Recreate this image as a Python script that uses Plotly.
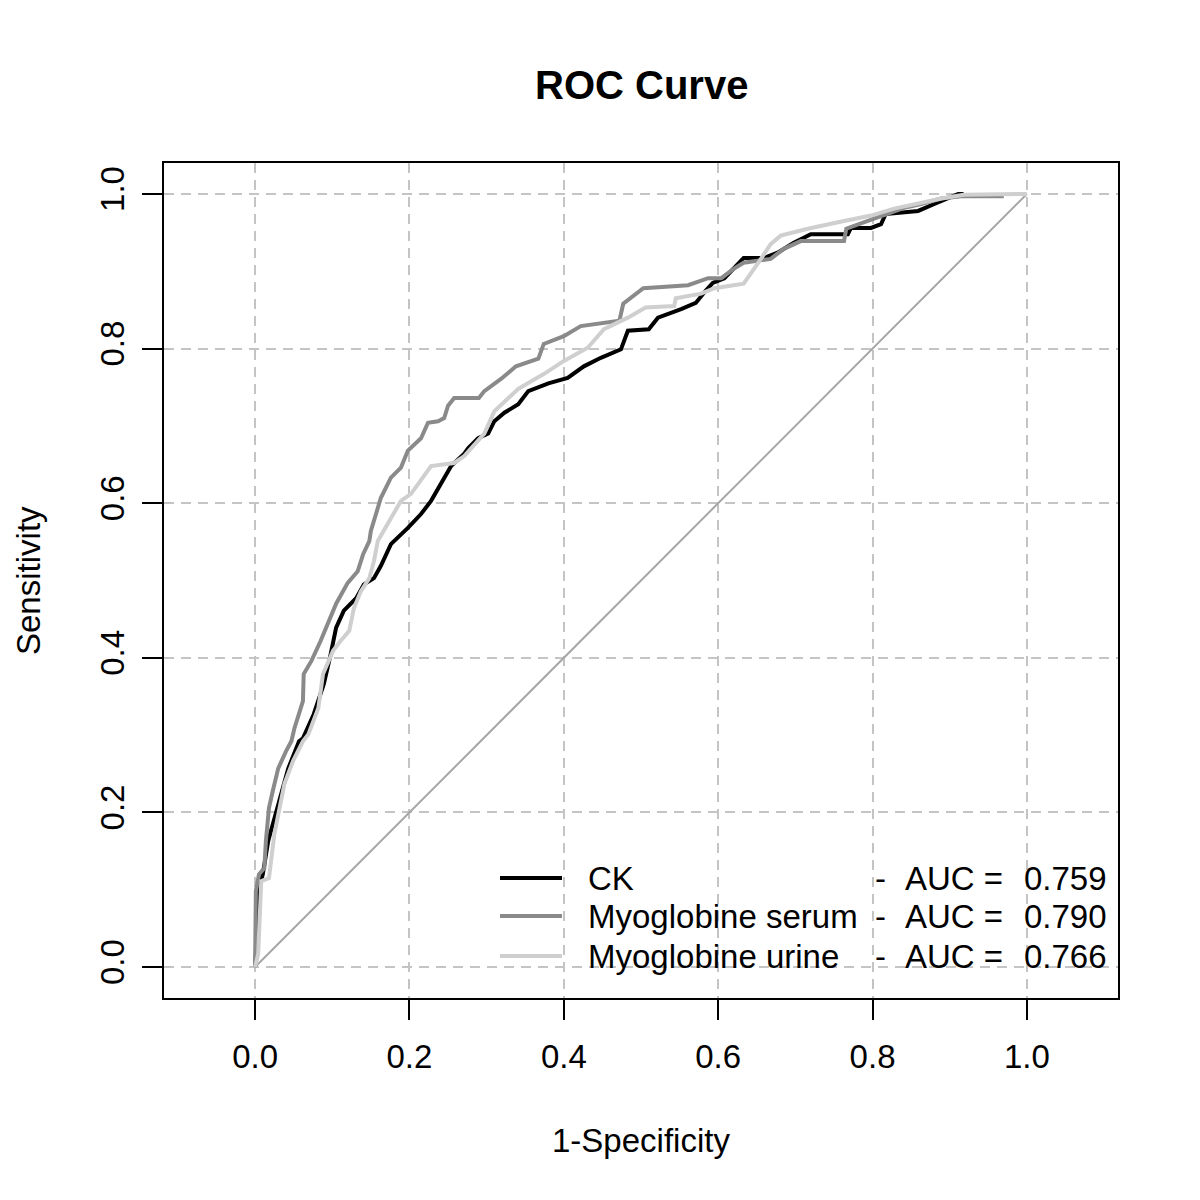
import plotly.graph_objects as go

# ---------------- data ----------------
ck_fpr = [0, 0.001, 0.004, 0.010, 0.017, 0.023, 0.030, 0.038, 0.043, 0.057,
          0.062, 0.076, 0.089, 0.098, 0.105, 0.115, 0.131, 0.141, 0.154, 0.163,
          0.176, 0.198, 0.215, 0.228, 0.245, 0.254, 0.271, 0.276, 0.289, 0.302,
          0.310, 0.323, 0.341, 0.354, 0.380, 0.405, 0.426, 0.448, 0.474, 0.483,
          0.510, 0.522, 0.552, 0.571, 0.584, 0.593, 0.608, 0.617, 0.633, 0.659,
          0.677, 0.698, 0.720, 0.768, 0.772, 0.798, 0.811, 0.817, 0.859, 0.880,
          0.898, 0.911, 0.918]
ck_tpr = [0, 0.017, 0.098, 0.120, 0.163, 0.185, 0.206, 0.237, 0.257, 0.292,
          0.296, 0.327, 0.366, 0.405, 0.439, 0.461, 0.477, 0.495, 0.503, 0.519,
          0.547, 0.568, 0.586, 0.603, 0.633, 0.648, 0.664, 0.671, 0.684, 0.690,
          0.706, 0.717, 0.728, 0.745, 0.755, 0.762, 0.777, 0.788, 0.799, 0.823,
          0.825, 0.840, 0.851, 0.859, 0.875, 0.885, 0.891, 0.900, 0.917, 0.917,
          0.924, 0.937, 0.948, 0.948, 0.956, 0.956, 0.961, 0.974, 0.978, 0.987,
          0.995, 1.000, 1.000]

serum_fpr = [0, 0, 0.001, 0.005, 0.012, 0.014, 0.018, 0.023, 0.030, 0.040,
             0.047, 0.051, 0.062, 0.063, 0.073, 0.085, 0.096, 0.105, 0.120, 0.133,
             0.140, 0.148, 0.150, 0.163, 0.176, 0.189, 0.198, 0.215, 0.224, 0.237,
             0.245, 0.250, 0.258, 0.290, 0.297, 0.319, 0.338, 0.367, 0.374, 0.400,
             0.422, 0.455, 0.472, 0.477, 0.491, 0.503, 0.561, 0.587, 0.604, 0.620,
             0.633, 0.668, 0.685, 0.707, 0.763, 0.766, 0.802, 0.820, 0.841, 0.863,
             0.889, 0.915, 0.970]
serum_tpr = [0, 0.034, 0.098, 0.120, 0.128, 0.163, 0.206, 0.228, 0.257, 0.279,
             0.292, 0.309, 0.344, 0.379, 0.396, 0.422, 0.450, 0.470, 0.497, 0.512,
             0.534, 0.551, 0.564, 0.607, 0.633, 0.646, 0.668, 0.684, 0.704, 0.706,
             0.710, 0.726, 0.736, 0.736, 0.745, 0.761, 0.777, 0.787, 0.806, 0.816,
             0.829, 0.833, 0.836, 0.858, 0.868, 0.878, 0.882, 0.891, 0.891, 0.903,
             0.911, 0.916, 0.929, 0.939, 0.939, 0.955, 0.968, 0.975, 0.982, 0.987,
             0.994, 0.997, 0.997]

urine_fpr = [0, 0.004, 0.008, 0.018, 0.025, 0.031, 0.038, 0.049, 0.062, 0.069,
             0.082, 0.088, 0.101, 0.111, 0.122, 0.128, 0.137, 0.148, 0.154, 0.159,
             0.174, 0.189, 0.202, 0.215, 0.228, 0.258, 0.271, 0.297, 0.310, 0.341,
             0.374, 0.400, 0.431, 0.452, 0.483, 0.506, 0.543, 0.545, 0.578, 0.595,
             0.633, 0.652, 0.668, 0.681, 0.716, 0.763, 0.798, 0.828, 0.859, 0.889,
             0.918, 1.0]
urine_tpr = [0, 0.017, 0.111, 0.115, 0.172, 0.202, 0.237, 0.266, 0.292, 0.301,
             0.335, 0.379, 0.409, 0.422, 0.435, 0.464, 0.486, 0.503, 0.525, 0.551,
             0.577, 0.603, 0.612, 0.629, 0.648, 0.652, 0.661, 0.690, 0.719, 0.748,
             0.767, 0.784, 0.801, 0.825, 0.840, 0.853, 0.855, 0.865, 0.871, 0.878,
             0.884, 0.911, 0.935, 0.946, 0.955, 0.965, 0.972, 0.981, 0.988, 0.994,
             0.999, 1.0]

diag_x = [0, 1]
diag_y = [0, 1]

series_names = ["CK", "Myoglobine serum", "Myoglobine urine"]
series_auc = ["0.759", "0.790", "0.766"]
series_colors = ["#000000", "#8a8a8a", "#cfcfcf"]
tick_vals = [0, 0.2, 0.4, 0.6, 0.8, 1.0]
tick_text = ["0.0", "0.2", "0.4", "0.6", "0.8", "1.0"]

# ---------------- layout geometry (pixels, as seen on the page) ----------------
W, H = 1200, 1200
OFF = 7  # page body margin offset
L, R, T, B = 163, 1117, 162, 997
FONT = "Liberation Sans, Arial, Helvetica, sans-serif"


def px(xp):
    return (xp - L) / (R - L)


def py(yp):
    return (B - yp) / (B - T)


fig = go.Figure()

fig.add_trace(go.Scatter(x=diag_x, y=diag_y, mode="lines",
                         line=dict(color="#a6a6a6", width=2),
                         hoverinfo="skip", showlegend=False))

curves = [(ck_fpr, ck_tpr), (serum_fpr, serum_tpr), (urine_fpr, urine_tpr)]
for (fx, ty), name, col in zip(curves, series_names, series_colors):
    fig.add_trace(go.Scatter(x=fx, y=ty, mode="lines", name=name,
                             line=dict(color=col, width=4),
                             showlegend=False))

axis_common = dict(
    showline=True, mirror=True, linecolor="black", linewidth=2,
    ticks="outside", ticklen=20, tickwidth=2, tickcolor="black",
    tickvals=tick_vals, ticktext=tick_text,
    showgrid=True, gridcolor="#c4c4c4", gridwidth=2, griddash="10px,7px",
    zeroline=False,
    tickfont=dict(family=FONT, size=33, color="black"),
)

fig.update_xaxes(range=[-0.118, 1.118], ticklabelstandoff=8, **axis_common)
fig.update_yaxes(range=[-0.040, 1.040], tickangle=-90, ticklabelstandoff=5,
                 **axis_common)

shapes = [
    # legend background (hides gridlines)
    dict(type="rect", xref="paper", yref="paper",
         x0=px(470), x1=px(1115), y0=py(995), y1=py(836),
         fillcolor="white", line=dict(width=0), layer="between"),
]
rows = [879, 917, 957]
for yrow, col in zip(rows, series_colors):
    shapes.append(dict(type="line", xref="paper", yref="paper",
                       x0=px(499), x1=px(561), y0=py(yrow - 2), y1=py(yrow - 2),
                       line=dict(color=col, width=4), layer="between"))

annotations = [
    dict(text="<b>ROC Curve</b>", x=px(640), y=py(84), xref="paper", yref="paper",
         showarrow=False, xanchor="center", yanchor="middle",
         font=dict(family=FONT, size=40, color="black")),
    dict(text="1-Specificity", x=px(640), y=py(1139), xref="paper", yref="paper",
         showarrow=False, xanchor="center", yanchor="middle",
         font=dict(family=FONT, size=33, color="black")),
    dict(text="Sensitivity", x=px(27), y=py(580), xref="paper", yref="paper",
         showarrow=False, xanchor="center", yanchor="middle", textangle=-90,
         font=dict(family=FONT, size=33, color="black")),
]
for yrow, name, auc in zip(rows, series_names, series_auc):
    common = dict(xref="paper", yref="paper", showarrow=False, yanchor="middle",
                  y=py(yrow - 2), font=dict(family=FONT, size=33, color="black"))
    annotations.append(dict(text=name, x=px(585), xanchor="left", **common))
    annotations.append(dict(text="-", x=px(872), xanchor="left", **common))
    annotations.append(dict(text="AUC =", x=px(902), xanchor="left", **common))
    annotations.append(dict(text=auc, x=px(1108), xanchor="right", **common))

fig.update_layout(
    width=W, height=H,
    margin=dict(l=L - OFF, r=W - R + OFF, t=T - OFF, b=H - B + OFF,
                autoexpand=False),
    plot_bgcolor="white", paper_bgcolor="white",
    showlegend=False,
    shapes=shapes, annotations=annotations,
    font=dict(family=FONT, size=33, color="black"),
)

fig.write_html("out.html")
